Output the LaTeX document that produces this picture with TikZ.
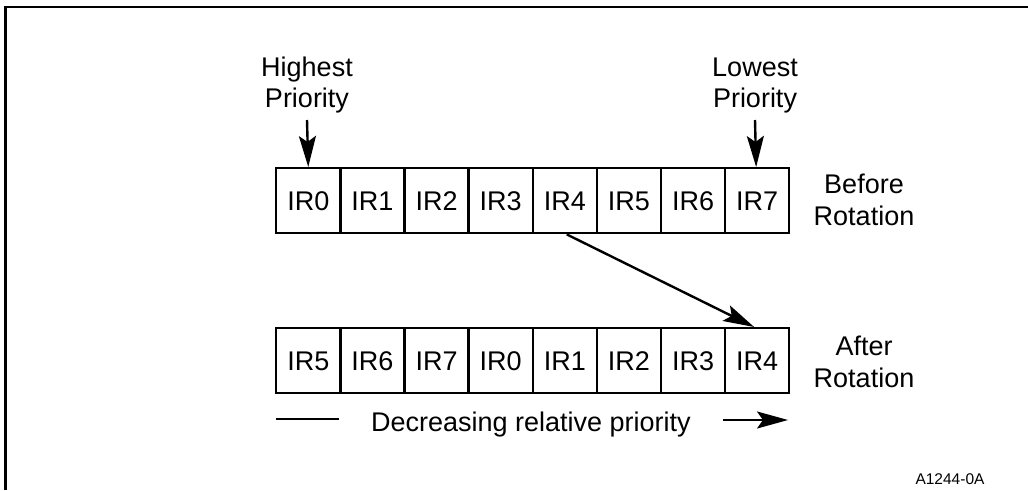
\documentclass[tikz,border=0pt]{standalone}
\usepackage{fontspec}
\setmainfont{Liberation Sans}
\usetikzlibrary{arrows.meta}
\begin{document}
\begin{tikzpicture}[x=1pt,y=-1pt,
  cell/.style={draw,line width=2.4pt,minimum width=64.125pt,minimum height=65pt,inner sep=0pt,text height=19.5pt,text depth=0pt,anchor=north west,font=\fontsize{27}{31}\selectfont},
  lbl/.style={anchor=base,inner sep=0pt,font=\fontsize{27}{31}\selectfont},
  arr/.style={line width=2.4pt,-{Stealth[length=31pt,width=17pt,inset=6pt]}},
  plain/.style={line width=2.4pt}]
\useasboundingbox (0,0) rectangle (1028,490);
\draw[line width=2.8pt] (5.5,490) -- (5.5,7) -- (1028,7);
% before rotation
\foreach \i/\t in {0/IR0,1/IR1,2/IR2,3/IR3,4/IR4,5/IR5,6/IR6,7/IR7}
  \node[cell] (a\i) at ({275+64.125*\i},167) {\t};
% after rotation
\foreach \i/\t in {0/IR5,1/IR6,2/IR7,3/IR0,4/IR1,5/IR2,6/IR3,7/IR4}
  \node[cell] (b\i) at ({275+64.125*\i},327) {\t};
% top labels
\node[lbl] (hi1) at (307,76) {Highest};
\node[lbl] (hi2) at (307,107) {Priority};
\node[lbl] (lo1) at (755,76) {Lowest};
\node[lbl] (lo2) at (755,107) {Priority};
\coordinate (hs) at (307,120);
\coordinate (ls) at (755,120);
\draw[arr] (hs) -- (a0.north);
\draw[arr] (ls) -- ([xshift=-1pt]a7.north);
% side labels
\node[lbl] (bf1) at (864,193) {Before};
\node[lbl] (bf2) at (864,225) {Rotation};
\node[lbl] (af1) at (864,355) {After};
\node[lbl] (af2) at (864,387) {Rotation};
% rotation arrow
\draw[arr] ([xshift=2pt]a4.south) -- ([xshift=-3pt]b7.north);
% bottom
\node[lbl] (dec) at (531,431) {Decreasing relative priority};
\coordinate (l1) at (276,419);
\coordinate (l2) at (339,419);
\coordinate (r1) at (723,420);
\coordinate (r2) at (788,420);
\draw[plain] (l1) -- (l2);
\draw[arr] (r1) -- (r2);
\node[anchor=base,inner sep=0pt,font=\fontsize{15.5}{18}\selectfont] (id) at (950,484) {A1244-0A};
\end{tikzpicture}
\end{document}
